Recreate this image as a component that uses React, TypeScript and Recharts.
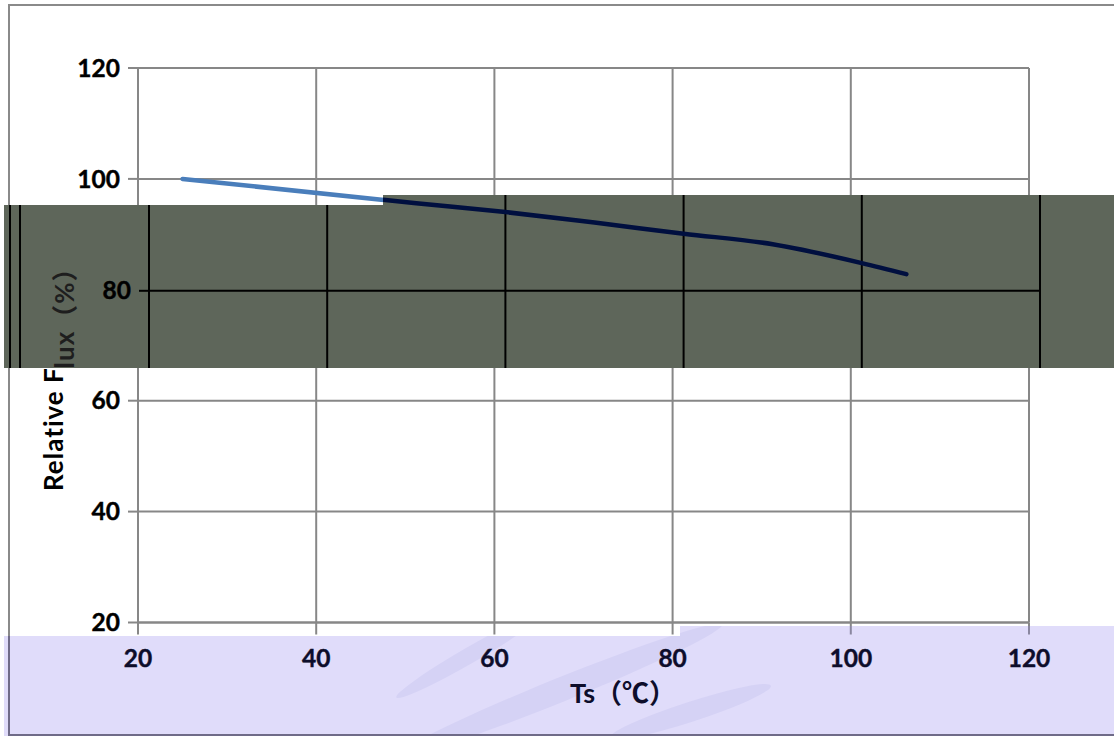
import React from 'react';
import { LineChart, Line, XAxis, YAxis, CartesianGrid } from 'recharts';

const temperatures = [25, 50, 60, 70, 80, 90, 100, 105];
const relativeFlux = [100, 95.8, 94.2, 92.3, 90.3, 88.4, 85.0, 83.0];
const xTicks = [20, 40, 60, 80, 100, 120];
const yTicks = [20, 40, 60, 80, 100, 120];
const xTitle = 'Ts（℃）';
const yTitle = 'Relative Flux（%）';

const data = temperatures.map((t, i) => ({ t, flux: relativeFlux[i] }));

const W = 1114;
const H = 736;
const FONT = "Lato, 'Noto Sans CJK SC', sans-serif";

type Scheme = {
  grid: string;
  tick: string;
  label: string;
  title: string;
  line: string;
  frame: string;
};

const baseScheme: Scheme = {
  grid: '#878787',
  tick: '#878787',
  label: '#000000',
  title: '#000000',
  line: '#4a7ebb',
  frame: '#8a8a8a',
};

const bandScheme: Scheme = {
  grid: '#000000',
  tick: '#000000',
  label: '#000000',
  title: '#1e1e1e',
  line: '#000f3f',
  frame: '#000000',
};

const lavScheme: Scheme = {
  grid: '#8a87a0',
  tick: '#8a87a0',
  label: '#0d0d2b',
  title: '#0d0d2b',
  line: 'transparent',
  frame: '#6f6b88',
};

function ChartLayer({ s }: { s: Scheme }) {
  const XTitle = (p: any) => {
    const vb = p.viewBox;
    return (
      <text x={vb.x + 432} y={vb.y + 80} fill={s.title} fontSize={27} fontWeight={700} fontFamily={FONT} textAnchor="start">
        {xTitle}
      </text>
    );
  };
  const YTitle = (p: any) => {
    const vb = p.viewBox;
    const x = vb.x + 25;
    const y = 491;
    return (
      <text x={x} y={y} transform={`rotate(-90, ${x}, ${y})`} fill={s.title} fontSize={26} fontWeight={700} letterSpacing={1} fontFamily={FONT} textAnchor="start">
        {yTitle}
      </text>
    );
  };
  const tickStyle = { fill: s.label, fontSize: 24.5, fontWeight: 700, fontFamily: FONT, stroke: s.label, strokeWidth: 0.4 };
  return (
    <div style={{ position: 'relative', width: W, height: H }}>
      <div
        style={{
          position: 'absolute',
          left: 8,
          top: 4,
          width: 1400,
          height: 732,
          border: `2px solid ${s.frame}`,
          boxSizing: 'border-box',
        }}
      />
      <div style={{ position: 'absolute', left: 0, top: 0 }}>
        <LineChart width={W} height={H} data={data} margin={{ top: 68, right: 85, left: 38, bottom: 53.5 }}>
          <CartesianGrid stroke={s.grid} strokeWidth={2} />
          <XAxis
            type="number"
            dataKey="t"
            domain={[20, 120]}
            ticks={xTicks}
            height={60}
            tickSize={12}
            tickMargin={15}
            axisLine={{ stroke: s.grid, strokeWidth: 2 }}
            tickLine={{ stroke: s.tick, strokeWidth: 2 }}
            tick={tickStyle}
            label={{ content: XTitle }}
          />
          <YAxis
            type="number"
            domain={[20, 120]}
            ticks={yTicks}
            width={100}
            tickSize={10}
            tickMargin={8}
            axisLine={{ stroke: s.grid, strokeWidth: 2 }}
            tickLine={{ stroke: s.tick, strokeWidth: 2 }}
            tick={tickStyle}
            label={{ content: YTitle }}
          />
          <Line
            type="monotone"
            dataKey="flux"
            stroke={s.line}
            strokeWidth={4.5}
            strokeLinecap="round"
            dot={false}
            activeDot={false}
            isAnimationActive={false}
          />
        </LineChart>
      </div>
    </div>
  );
}

function Overlay({
  left,
  top,
  width,
  height,
  clip,
  bg,
  dx,
  dy,
  s,
  children,
}: {
  left: number;
  top: number;
  width: number;
  height: number;
  clip: string;
  bg: string;
  dx: number;
  dy: number;
  s: Scheme;
  children?: React.ReactNode;
}) {
  return (
    <div
      style={{
        position: 'absolute',
        left,
        top,
        width,
        height,
        overflow: 'hidden',
        background: bg,
        clipPath: clip,
      }}
    >
      {children}
      <div style={{ position: 'absolute', left: -left + dx, top: -top + dy }}>
        <ChartLayer s={s} />
      </div>
    </div>
  );
}

export default function App() {
  return (
    <div style={{ position: 'absolute', left: 0, top: 0, width: W, height: H, background: '#ffffff', overflow: 'hidden' }}>
      <ChartLayer s={baseScheme} />
      <Overlay
        left={4}
        top={195}
        width={1110}
        height={173}
        clip="polygon(0px 10px, 379px 10px, 379px 0px, 1110px 0px, 1110px 173px, 0px 173px)"
        bg="#5e665a"
        dx={10.5}
        dy={1}
        s={bandScheme}
      >
        <div style={{ position: 'absolute', left: 5, top: 0, width: 2, height: 173, background: '#000' }} />
      </Overlay>
      <Overlay
        left={4}
        top={626}
        width={1110}
        height={110}
        clip="polygon(0px 10px, 676px 10px, 676px 0px, 1110px 0px, 1110px 110px, 0px 110px)"
        bg="#e0dcfa"
        dx={0}
        dy={0}
        s={lavScheme}
      >
        <svg width={1110} height={110} style={{ position: 'absolute', left: 0, top: 0 }}>
          <ellipse cx={466} cy={29} rx={85} ry={8} fill="#d5d2f5" transform="rotate(-30, 466, 29)" />
          <ellipse cx={556} cy={64} rx={175} ry={12} fill="#d5d2f5" transform="rotate(-22, 556, 64)" />
          <ellipse cx={686} cy={86} rx={85} ry={10} fill="#d5d2f5" transform="rotate(-18, 686, 86)" />
        </svg>
      </Overlay>
    </div>
  );
}
